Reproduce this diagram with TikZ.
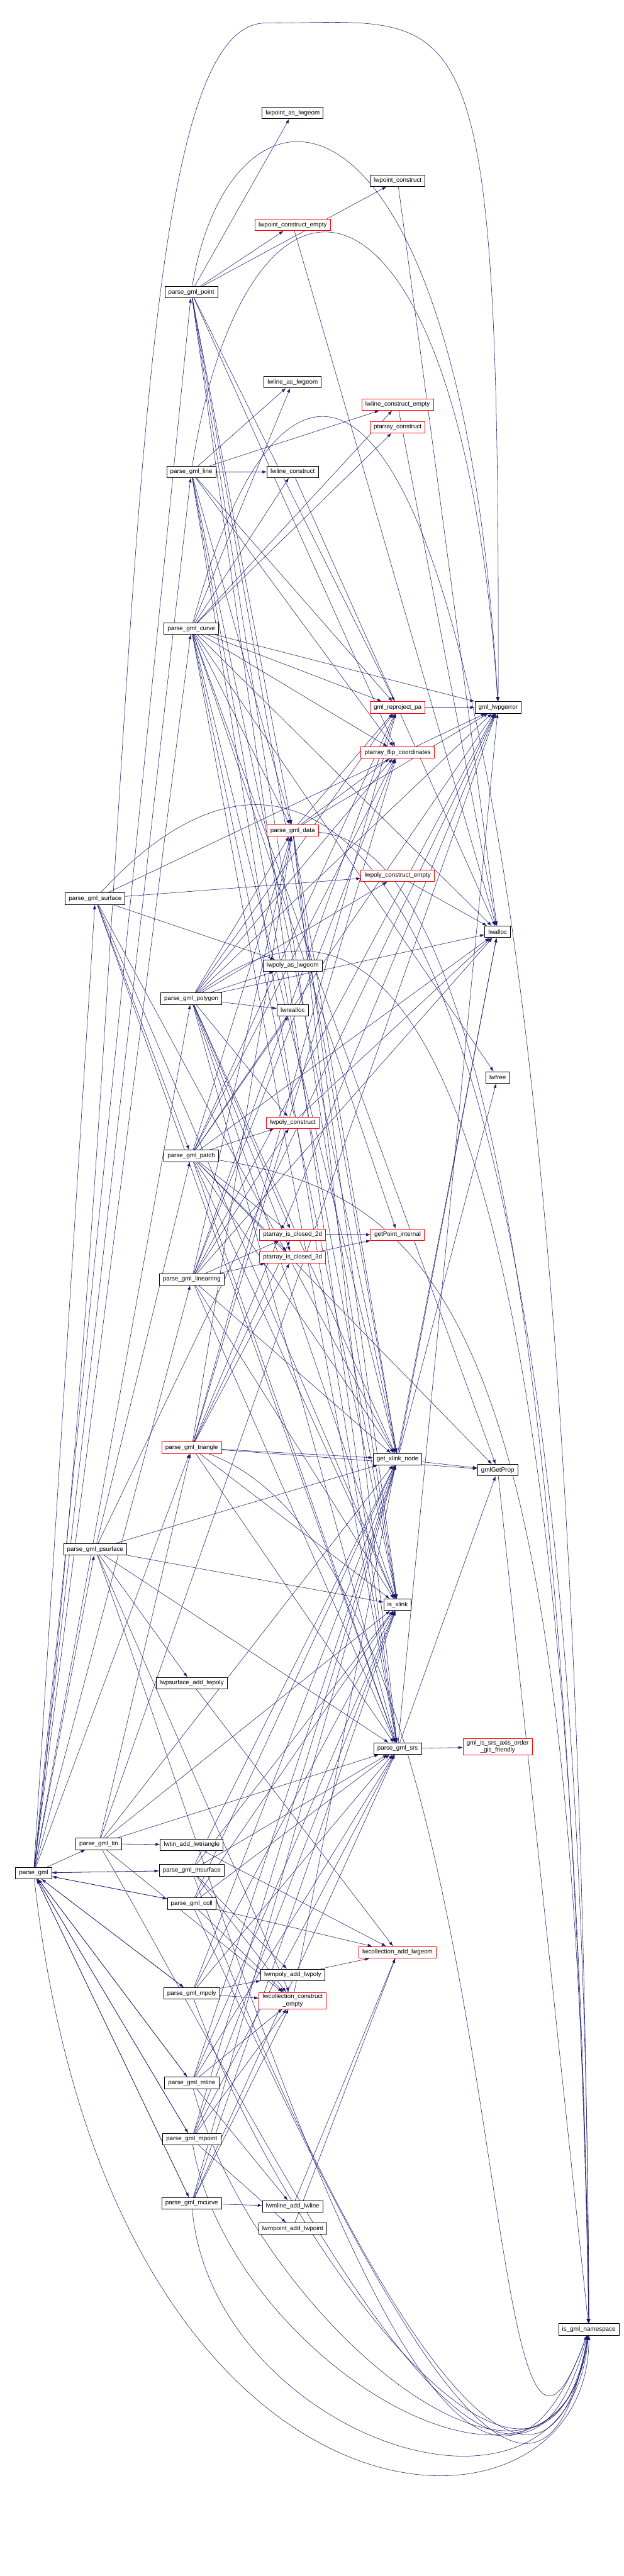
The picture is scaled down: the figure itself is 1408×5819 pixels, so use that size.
\documentclass[tikz,border=0pt]{standalone}
\usepackage{fontspec}
\setmainfont{Liberation Sans}
\usetikzlibrary{arrows.meta,positioning,backgrounds}
\definecolor{EdgeBlue}{RGB}{25,25,112}
\definecolor{BoxRed}{RGB}{255,0,0}
\tikzset{
  fn/.style={rectangle, draw=black, fill=white, line width=0.6pt, minimum height=13pt,
    inner xsep=4pt, inner ysep=1pt, font=\fontsize{7}{8}\selectfont},
  fnred/.style={fn, draw=BoxRed},
  call/.style={draw=EdgeBlue, line width=0.4pt, -{Latex[length=5pt,width=3.5pt]}},
}

\begin{document}
\begin{tikzpicture}[x=0.5pt,y=-0.5pt]
\useasboundingbox (0,0) rectangle (1408,5819);

% root and left column
\node[fn] (pg) at (76,4231) {parse\_gml};
\node[fn] (surf) at (215,2030) {parse\_gml\_surface};
\node[fn] (psurf) at (215,3500) {parse\_gml\_psurface};
\node[fn] (tin) at (223,4165) {parse\_gml\_tin};

% parsers
\node[fn] (point) at (432,660) {parse\_gml\_point};
\node[fn] (line) at (432,1066) {parse\_gml\_line};
\node[fn] (curve) at (432,1420) {parse\_gml\_curve};
\node[fn] (poly) at (432,2256) {parse\_gml\_polygon};
\node[fn] (patch) at (432,2611) {parse\_gml\_patch};
\node[fn] (ring) at (433,2890) {parse\_gml\_linearring};
\node[fnred] (tri) at (433,3270) {parse\_gml\_triangle};
\node[fn] (psadd) at (433,3802) {lwpsurface\_add\_lwpoly};
\node[fn] (tinadd) at (433,4167) {lwtin\_add\_lwtriangle};
\node[fn] (msurf) at (433,4225) {parse\_gml\_msurface};
\node[fn] (coll) at (433,4300) {parse\_gml\_coll};
\node[fn] (mpoly) at (433,4503) {parse\_gml\_mpoly};
\node[fn] (mline) at (433,4705) {parse\_gml\_mline};
\node[fn] (mpoint) at (433,4832) {parse\_gml\_mpoint};
\node[fn] (mcurve) at (433,4977) {parse\_gml\_mcurve};

% constructors
\node[fn] (ptgeom) at (661,255) {lwpoint\_as\_lwgeom};
\node[fnred] (ptempty) at (661,508) {lwpoint\_construct\_empty};
\node[fn] (lngeom) at (661,863) {lwline\_as\_lwgeom};
\node[fn] (lncons) at (661,1066) {lwline\_construct};
\node[fnred] (data) at (661,1876) {parse\_gml\_data};
\node[fn] (polygeom) at (661,2181) {lwpoly\_as\_lwgeom};
\node[fn] (realloc) at (661,2282) {lwrealloc};
\node[fnred] (polycons) at (661,2536) {lwpoly\_construct};
\node[fnred] (closed2) at (661,2789) {ptarray\_is\_closed\_2d};
\node[fnred] (closed3) at (661,2840) {ptarray\_is\_closed\_3d};
\node[fn] (mpolyadd) at (661,4461) {lwmpoly\_add\_lwpoly};
\node[fnred, align=center, inner ysep=2pt] (collempty) at (661,4519) {lwcollection\_construct\\\_empty};
\node[fn] (mlineadd) at (661,4984) {lwmline\_add\_lwline};
\node[fn] (mptadd) at (661,5034) {lwmpoint\_add\_lwpoint};

% helpers
\node[fn] (ptcons) at (898,408) {lwpoint\_construct};
\node[fnred] (lnempty) at (898,914) {lwline\_construct\_empty};
\node[fnred] (paconst) at (898,965) {ptarray\_construct};
\node[fnred] (reproj) at (898,1598) {gml\_reproject\_pa};
\node[fnred] (flip) at (898,1700) {ptarray\_flip\_coordinates};
\node[fnred] (polyempty) at (898,1978) {lwpoly\_construct\_empty};
\node[fnred] (getpt) at (898,2789) {getPoint\_internal};
\node[fn] (xnode) at (898,3296) {get\_xlink\_node};
\node[fn] (isxlink) at (898,3625) {is\_xlink};
\node[fn] (srs) at (898,3950) {parse\_gml\_srs};
\node[fnred] (colladd) at (898,4410) {lwcollection\_add\_lwgeom};

% leaves
\node[fn] (err) at (1125,1598) {gml\_lwpgerror};
\node[fn] (alloc) at (1124,2105) {lwalloc};
\node[fn] (free) at (1124,2434) {lwfree};
\node[fn] (prop) at (1124,3321) {gmlGetProp};
\node[fnred, align=center, inner ysep=2pt] (axis) at (1124,3946) {gml\_is\_srs\_axis\_order\\\_gis\_friendly};
\node[fn] (ns) at (1330,5262) {is\_gml\_namespace};

\begin{scope}[on background layer]
% parse_gml dispatch
\foreach \t in {point,line,curve,poly,surf,ring,tri,psurf,tin,msurf,coll,mpoly,mline,mpoint,mcurve}
  \draw[call] (pg) -- (\t);
\draw[call] (pg) .. controls (330,2000) and (250,52) .. (600,52)
  .. controls (1060,52) and (1130,-60) .. (err);
\draw[call] (pg) .. controls (250,5800) and (1330,5800) .. (ns);

% single geometries
\foreach \t in {ptgeom,ptempty,ptcons,data,flip,reproj,isxlink,xnode,srs}
  \draw[call] (point) -- (\t);
\draw[call] (point) .. controls (520,120) and (1040,100) .. (err);
\foreach \t in {lngeom,lnempty,lncons,data,flip,reproj,isxlink,xnode,srs}
  \draw[call] (line) -- (\t);
\draw[call] (line) .. controls (560,260) and (1040,300) .. (err);
\foreach \t in {lngeom,lnempty,lncons,paconst,getpt,alloc,free,data,flip,reproj,err,isxlink,xnode,srs,prop}
  \draw[call] (curve) -- (\t);
\draw[call] (curve) .. controls (700,420) and (1300,700) .. (ns);
\foreach \t in {polygeom,polyempty,polycons,realloc,alloc,data,closed2,closed3,flip,reproj,err,isxlink,xnode,srs}
  \draw[call] (poly) -- (\t);
\draw[call] (poly) .. controls (900,1900) and (1290,2400) .. (ns);
\foreach \t in {polycons,realloc,alloc,data,closed2,closed3,flip,reproj,err,isxlink,xnode,srs,prop}
  \draw[call] (patch) -- (\t);
\draw[call] (patch) .. controls (1000,2700) and (1300,3000) .. (ns);
\foreach \t in {polycons,alloc,data,closed2,closed3,flip,reproj,err,isxlink,xnode,srs}
  \draw[call] (ring) -- (\t);
\foreach \t in {data,closed2,closed3,flip,reproj,err,isxlink,xnode,srs,prop}
  \draw[call] (tri) -- (\t);
\draw[call] (tri) to[out=-20,in=-110,looseness=0.9] (ns);
\foreach \t in {polygeom,polyempty,patch,err,isxlink,xnode,srs}
  \draw[call] (surf) -- (\t);
\draw[call] (surf) .. controls (700,1500) and (1320,1800) .. (ns);

% collections
\foreach \t in {patch,psadd,collempty,err,isxlink,xnode,srs}
  \draw[call] (psurf) -- (\t);
\draw[call] (psurf) to[out=-70,in=-110,looseness=1.1] (ns);
\foreach \t in {tri,tinadd,collempty,err,isxlink,xnode,srs}
  \draw[call] (tin) -- (\t);
\draw[call] (tin) to[out=-60,in=-105,looseness=1.2] (ns);
\foreach \s/\a in {msurf/mpolyadd,mpoly/mpolyadd,mline/mlineadd,mcurve/mlineadd,mpoint/mptadd,coll/colladd}{
  \draw[call] (\s) -- (\a);
  \draw[call] (\s) -- (collempty);
  \draw[call] (\s) -- (isxlink);
  \draw[call] (\s) -- (xnode);
  \draw[call] (\s) -- (srs);
  \draw[call] (\s) -- (pg);
}
\draw[call] (msurf) to[out=-70,in=-100,looseness=1.3] (ns);
\draw[call] (coll) to[out=-65,in=-100,looseness=1.4] (ns);
\draw[call] (mpoly) to[out=-70,in=-100,looseness=1.3] (ns);
\draw[call] (mline) to[out=-75,in=-98,looseness=1.3] (ns);
\draw[call] (mpoint) to[out=-80,in=-97,looseness=1.3] (ns);
\draw[call] (mcurve) to[out=-85,in=-95,looseness=1.4] (ns);

% adders
\foreach \s in {psadd,tinadd,mpolyadd,mlineadd,mptadd}
  \draw[call] (\s) -- (colladd);

% data and helpers
\foreach \t in {reproj,flip,err,isxlink,xnode,srs}
  \draw[call] (data) -- (\t);
\draw[call] (data) .. controls (1000,1900) and (1280,2600) .. (ns);
\foreach \s in {ptempty,ptcons,lnempty,lncons,polyempty,polycons,collempty}
  \draw[call] (\s) -- (alloc);
\draw[call] (reproj) -- (err);
\draw[call] (closed2) -- (getpt);
\draw[call] (closed3) -- (getpt);
\foreach \t in {prop,alloc,free}
  \draw[call] (xnode) -- (\t);
\foreach \t in {axis,prop,err}
  \draw[call] (srs) -- (\t);
\draw[call] (prop) -- (ns);
\end{scope}
\end{tikzpicture}
\end{document}
